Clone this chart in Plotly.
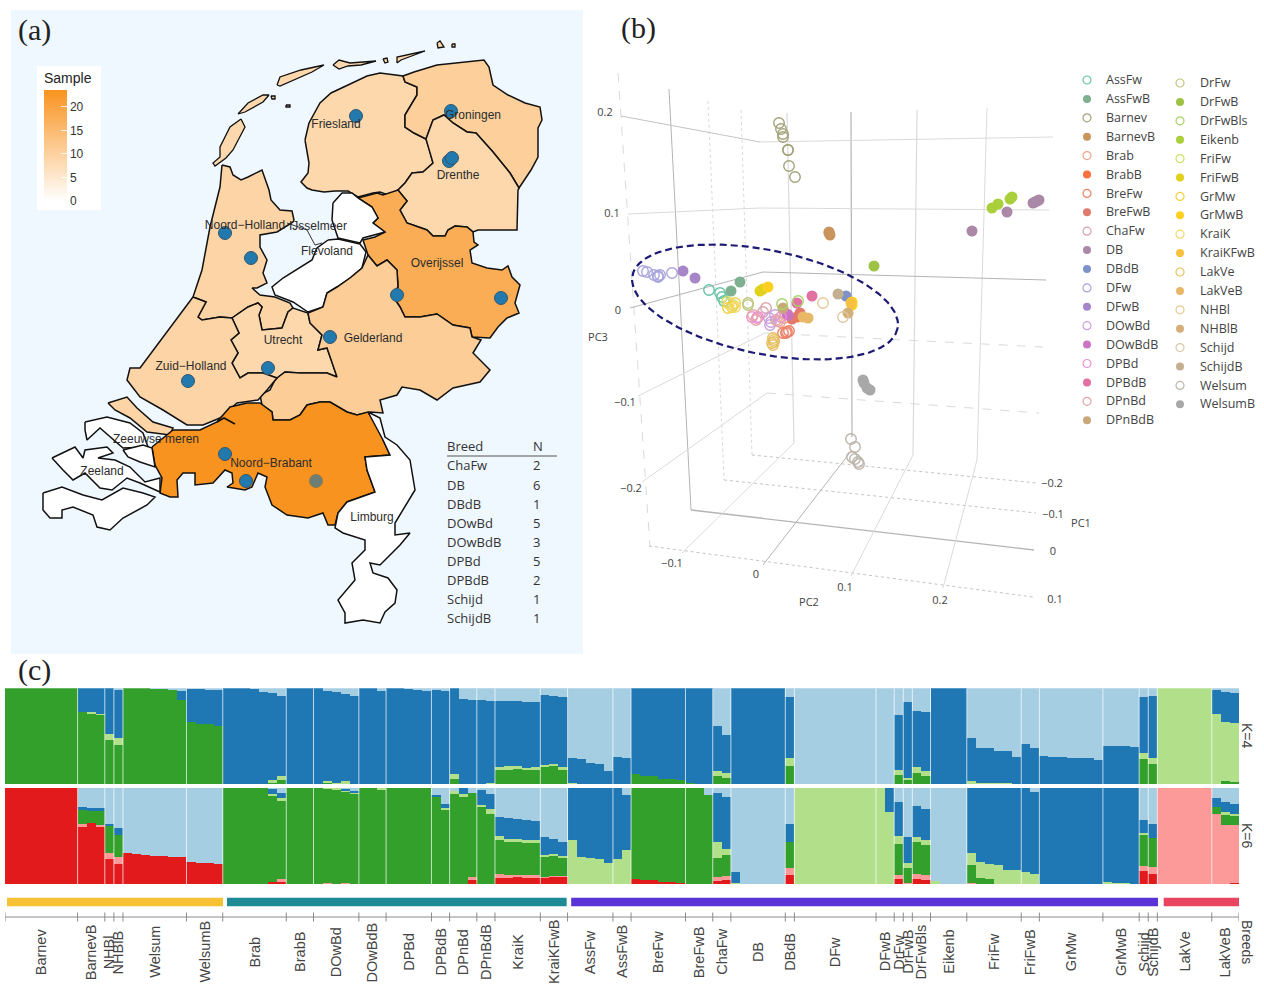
import numpy as np
import plotly.graph_objects as go

W, H = 1264, 985

# ---------------- panel (c): admixture
BREEDS = ["Barnev","BarnevB","NHBl","NHBlB","Welsum","WelsumB","Brab","BrabB","DOwBd","DOwBdB","DPBd","DPBdB",
          "DPnBd","DPnBdB","KraiK","KraiKFwB","AssFw","AssFwB","BreFw","BreFwB","ChaFw","DB","DBdB","DFw","DFwB",
          "DrFw","DrFwB","DrFwBls","Eikenb","FriFw","FriFwB","GrMw","GrMwB","Schijd","SchijdB","LakVe","LakVeB"]
BREED_N = [8,3,1,1,7,4,7,3,5,3,5,2,3,2,5,3,5,2,6,3,2,6,1,9,2,1,1,2,4,6,2,7,4,1,1,6,3]

K4_GREEN = [100]*8+[75,73,72,45.5,40.6,100,100,100,99,99,98,88,65,63,62,60]+[0,0,0,0,0,2,4.5]+[0]*3+[0,1,0,1,0]+[0]*3+[0]*5+[0,0]+[5,0,0]+[0,0]+[15,15,15.5,14.5,15,18.5,19,15.6]+[0]*7+[10,8.7,8.3,5.5,5,4,1,0,0,8,6]+[0]*6+[19]+[0]*11+[9.4,4.5,11.5,8.7]+[0]*23+[26,21]+[0]*6+[0,3,2]
K4_LGREEN = [0]*8+[0,1.5,1,6.5,7]+[0]*11+[0,0,0,0,0,2,3.5]+[0]*3+[0,2.5,1,2,0]+[0]*3+[0]*5+[0,0]+[5,0,0]+[0,1]+[2.5,3.5,3,2.5,2.5,1.5,2,2]+[1,0,0,0,0,0,0]+[0]*9+[6,5]+[0.5]+[0]*5+[8]+[0]*11+[5.6,1.5,6.2,5.3]+[0]*4+[3.5,1.5,1,1,1,0,0,0,.5,.5,.5,.5,0,0,0,0,0,0,0]+[6,6.4]+[100]*6+[73,61.6,61.5]
K4_BLUE = [0]*8+[25,25.5,27,48,50]+[0]*6+[8.5]+[34,36,36.5,37.5]+[100,100,100,99,96,91,84]+[100]*3+[100,93.5,95,91,92,100,100,97,100,100,99,98,97,97.5,96.5,90,89,88,88,85,69,67.5,67.5,68,67.5,72.5,71,72.9,26,26,21.5,21,13.5,28,27,90,91.3,91.7,94.5,95,96,99,100,100,46,40,99.5]+[100]*5+[64]+[0]*11+[57,79,58,61.3]+[100]*4+[44.5,36,36,33,33,28,41.7,38,28.5,27.5,27.5,27,27,26.7,24.6,40,39.6,39.2,38.9,59,64.6]+[0]*6+[24.5,31.4,31.5]

K6_RED = [100]*8+[60,63.7,59.5,26.6,21.5,32,31.5,30.4,29.8,29,28.7,28.7,23,22.5,21.8,21]+[0,0,0,0,0,2,3]+[0]*3+[0]*5+[0]*3+[0]*5+[0,0]+[0,0,4]+[0,0]+[7,6.6,7.6,7.3,7,6.6,7.6,7.6]+[0]*7+[5.5,4.8,4,2.4,2,1.4,0,0.5,0,3,4]+[0]*6+[10]+[0]*11+[5,0,6,4]+[0]*23+[13.5,11]+[0]*6+[0,0,1.7]
K6_PINK = [0]*8+[2.6,0,2.5,6.4,6.5]+[0]*11+[0,0,0,0,0,0,2]+[0]*3+[0,1,0,1,0]+[0]*3+[0]*5+[0,0]+[0,0,3.6]+[0,0]+[3.7,2.7,2.4,2,2.3,1,1,1]+[0]*7+[0]*9+[4.3,4.6]+[0]*6+[7.3]+[0]*11+[4.7,1.7,5,5.3]+[0]*4+[1.7]+[0]*18+[5.5,6.6]+[100]*6+[73.4,62,60.3]
K6_GREEN = [0]*8+[14.4,13.3,14.5,28,23]+[0]*11+[100,100,100,100,100,90,82]+[100]*3+[100,98,98,95,94,100,100,98]+[100]*5+[90.6,77.5,94,91,87.4,80,73.4,35,35,34.3,33.7,33.7,21.4,21.4,18.7]+[0]*7+[94.5,95.2,96,97.6,98,98.6,100,99.5,93,20,22.2]+[0]*6+[26.3]+[0]*11+[32.3,15.3,33,31.2]+[0]*4+[18.3,7,5.5,0,0,0]+[0]*13+[33,30.4]+[0]*6+[6.6,9.6,9.6]
K6_LGREEN = [0]*8+[0]*5+[0]*11+[0,0,0,0,0,1.4,3]+[0]*3+[0,1,2,1,1.5,0,0,2]+[0]*5+[0,1.5,3,3,0,2.4,4.6,4.3,2.4,2.7,3.4,2.7,1.8,1.8,2.1,46,28.4,27.3,26.6,22.5,26,36]+[0]*9+[16.7,5.5,1.7]+[0]*5+[0]+[100]*9+[100,75.4,8,5.5,5,5.9,3,0,0,0,12,16,15.5,19.7,15,14.5,13,11]+[0]*7+[2,1.7,1,0.7,1.6,0]+[0]*6+[0,3.1,1.4]
K6_BLUE = [0]*8+[3,2,2.5,2,7]+[0]*11+[0,0,0,0,0,5.9,5]+[0]*3+[0,0,0,2.7,1.5]+[0]*3+[0]*5+[2.4,4.7,0,6,0,15.2,15.4,20,22.3,21,20,20.3,18,15.6,14.9,54,71.6,72.7,73.4,77.5,74,57]+[0]*9+[51,54.7,11.3]+[0]*5+[19]+[0]*9+[0,24.6,35.5,26.5,32.7,32.1]+[0]*4+[68,77,79,80.3,85,85.5,87,85]+[100]*7+[98,98.3,99,99.3,12.8,14.6]+[0]*6+[10,10.8,10]

C_GREEN, C_LGREEN, C_BLUE, C_LBLUE, C_RED, C_PINK = "#33a02c", "#b2df8a", "#1f78b4", "#a6cee3", "#e31a1c", "#fb9a99"
GROUP_EDGES = [(-0.28, 23.53, "#f6c234"), (23.97, 61.4, "#1d8a94"), (61.9, 126.57, "#5a33d6"), (127.2, 135.6, "#ea4560")]

# ---------------- panel (a): map
PROVINCE_SAMPLES = {"Friesland":8.6,"Groningen":10.5,"Drenthe":8.6,"Overijssel":18,"Flevoland":0,"Noord-Holland":9.5,
                    "Utrecht":8.6,"Gelderland":11,"Zuid-Holland":9.5,"Noord-Brabant":23.6,"Limburg":0,"Zeeland":0}
PROV = {
"Friesland":[(305,140),(309,123),(320,103),(331,93),(348,85),(367,76),(380,73),(403,76),(405,82),(417,87),(417,95),(412,103),(405,115),(405,127),(414,133),(426,139),(429,148),(433,163),(423,172),(412,173),(405,183),(398,190),(388,195),(380,192),(373,193),(358,197),(348,191),(335,191),(324,192),(312,190),(307,188),(301,182),(308,173),(309,163),(307,153)],
"Groningen":[(403,76),(414,72),(437,65),(459,63),(484,60),(489,67),(493,85),(508,95),(525,103),(540,107),(542,120),(538,128),(538,157),(531,170),(519,188),(510,173),(493,152),(476,133),(467,132),(453,123),(444,115),(433,120),(426,139),(414,133),(405,127),(405,115),(412,103),(417,95),(417,87),(405,82)],
"Drenthe":[(426,139),(433,120),(444,115),(453,123),(467,132),(476,133),(493,152),(510,173),(519,188),(518,190),(517,230),(503,230),(478,230),(473,232),(467,227),(455,226),(448,230),(445,236),(433,236),(427,230),(407,223),(400,210),(407,201),(398,190),(405,183),(412,173),(423,172),(433,163),(429,148)],
"Overijssel":[(358,198),(377,193),(383,195),(398,190),(407,201),(400,210),(407,223),(427,230),(433,236),(445,236),(448,230),(455,226),(467,227),(473,232),(474,242),(478,245),(470,250),(472,263),(487,268),(502,270),(508,266),(512,277),(520,285),(515,303),(519,313),(507,318),(498,327),(490,338),(472,337),(470,328),(453,325),(437,314),(420,317),(405,317),(400,307),(392,295),(398,287),(397,270),(387,260),(377,266),(368,255),(363,240),(375,237),(385,232),(373,223),(378,218),(372,207)],
"Flevoland":[(333,203),(342,193),(352,193),(358,198),(372,207),(378,218),(373,223),(385,232),(363,238),(360,243),(338,238),(332,220)],
"Flevoland S":[(328,240),(338,239),(360,244),(366,252),(362,268),(350,278),(337,287),(327,293),(323,307),(308,312),(293,302),(275,295),(272,287),(283,278),(312,260),(317,248)],
"Noord-Holland":[(222,165),(230,167),(233,175),(241,180),(248,177),(262,170),(269,190),(271,200),(280,210),(292,211),(294,220),(293,222),(285,227),(277,232),(260,235),(260,247),(267,260),(263,273),(267,283),(257,288),(252,288),(260,295),(275,297),(290,303),(293,308),(288,312),(282,328),(262,330),(259,315),(262,307),(258,303),(248,307),(232,318),(220,317),(202,320),(198,317),(206,302),(193,297),(202,270),(210,227),(220,187)],
"Utrecht":[(232,318),(248,307),(258,303),(262,307),(259,315),(262,330),(282,328),(288,312),(293,308),(308,313),(310,323),(322,335),(318,350),(327,348),(332,362),(337,377),(327,373),(300,373),(285,372),(277,378),(263,373),(248,373),(240,378),(232,363),(238,353),(231,340),(239,333)],
"Gelderland":[(308,313),(323,307),(327,293),(337,287),(350,278),(362,268),(368,255),(377,266),(387,260),(397,270),(398,287),(392,295),(400,307),(405,317),(420,317),(437,314),(453,325),(470,328),(472,337),(481,340),(473,353),(490,370),(480,382),(475,383),(453,388),(437,400),(420,390),(402,387),(397,395),(380,400),(383,413),(370,412),(357,415),(347,412),(330,402),(320,402),(307,405),(300,415),(290,420),(273,420),(272,412),(262,405),(260,395),(270,390),(275,380),(277,378),(285,372),(300,373),(327,373),(337,377),(332,362),(327,348),(318,350),(322,335),(310,323)],
"Zuid-Holland":[(193,297),(206,302),(198,317),(202,320),(220,317),(232,318),(239,333),(231,340),(238,353),(232,363),(240,378),(248,373),(263,373),(277,378),(267,390),(258,400),(237,403),(220,418),(203,425),(187,425),(163,410),(140,397),(127,380),(130,368),(140,368),(163,337)],
"Zuid-Holland S":[(108,403),(127,397),(137,408),(153,422),(173,428),(170,435),(147,432),(130,418),(115,410)],
"Noord-Brabant":[(152,447),(173,430),(200,430),(217,422),(230,407),(247,403),(260,403),(272,412),(273,420),(290,420),(300,415),(307,405),(320,402),(330,402),(347,412),(357,415),(368,412),(380,427),(383,440),(390,455),(365,457),(367,470),(375,492),(347,502),(338,513),(335,525),(328,525),(323,513),(308,518),(287,515),(272,505),(265,487),(267,477),(258,473),(252,487),(245,490),(227,487),(233,483),(232,473),(225,470),(213,483),(195,485),(195,473),(183,473),(177,480),(178,497),(170,497),(160,493),(162,478),(155,465)],
"Limburg":[(368,412),(380,418),(385,437),(397,445),(410,460),(415,490),(395,523),(395,535),(410,533),(400,545),(380,565),(370,563),(373,573),(388,578),(397,590),(395,603),(385,612),(380,623),(363,620),(345,623),(345,613),(338,600),(355,580),(352,563),(365,550),(365,540),(343,533),(335,528),(338,513),(347,502),(375,492),(367,470),(365,457),(390,455),(383,440)],
"Zeeland A":[(85,422),(107,417),(130,423),(143,433),(148,447),(123,448),(100,428),(87,440),(85,430)],
"Zeeland B":[(123,450),(143,445),(152,448),(155,467),(140,462),(128,457)],
"Zeeland C":[(52,458),(75,447),(83,458),(85,450),(107,447),(113,453),(98,458),(115,460),(130,467),(145,482),(160,478),(160,492),(140,483),(127,478),(112,490),(100,488),(85,473),(73,480),(63,470)],
"Zeeland D":[(43,493),(62,487),(83,495),(102,500),(123,488),(143,493),(155,497),(147,505),(123,518),(110,530),(97,527),(93,515),(73,507),(62,510),(62,518),(50,518),(43,510)],
}
ISLANDS = [
 [(241,119),(245,127),(233,150),(226,158),(215,166),(213,163),(220,157),(220,147),(230,127)],
 [(238,114),(248,103),(263,95),(269,95),(263,102),(245,112)],
 [(277,85),(280,77),(301,70),(324,65),(312,72),(294,80),(280,86)],
 [(333,65),(339,60),(350,63),(376,61),(361,65),(348,66),(339,69)],
 [(397,63),(397,57),(425,51),(410,57),(401,60)],
 [(383,59),(387,58),(388,62),(385,63)],
 [(437,43),(440,41),(444,47),(438,48)],
 [(452,44),(455,44),(455,47),(452,47)],
 [(271,96),(275,96),(275,99),(272,99)],
 [(286,105),(290,105),(290,107),(286,107)],
]
IJSSELMEER_LINE = [(287,223),(307,230),(315,245),(322,243)]
RIVER_LINE = [(217,422),(224,418),(235,424)]
PROV_LABEL = ["Friesland","Groningen","Drenthe","Noord\u2212Holland","IJsselmeer","Flevoland","Overijssel","Gelderland","Utrecht","Zuid\u2212Holland","Zeeuwse meren","Zeeland","Noord\u2212Brabant","Limburg"]
PROV_LABEL_X = [336,473,458,245,318,327,437,373,283,191,156,102,271,372]
PROV_LABEL_Y = [125,116,176,226,227,252,264,339,341,367,440,472,464,518]
FARM_X = [356,451,449,452,225,251,397,501,330,268,188,225,246]
FARM_Y = [116,111,161,158,233,258,295,298,337,368,381,454,481]
GREY_FARM = (316,481)
TABLE_BREED = ["ChaFw","DB","DBdB","DOwBd","DOwBdB","DPBd","DPBdB","Schijd","SchijdB"]
TABLE_N = [2,6,1,5,3,5,2,1,1]
TABLE_Y = [467,487,506,525,544,563,582,601,620]

# ---------------- panel (b): PCA projection
PCA = {
"AssFw":([709,720,722,724],[290,293,297,301],"#66c2a5",True),
"AssFwB":([740,731],[282,291],"#7fb08f",False),
"Barnev":([779,781,783,783,788,788,789,795],[123,129,134,137,150,150,166,177],"#a3a37c",True),
"BarnevB":([829,829,830],[232,233,235],"#c9955c",False),
"Brab":([780,776,784],[322,320,318],"#f0a58a",True),
"BrabB":([797],[317],"#f8713e",False),
"BreFw":([783,786,787,789],[333,333,332,331],"#ee7f66",True),
"BreFwB":([800,792],[313,319],"#e07a6d",False),
"ChaFw":([766,763],[308,312],"#d8a3ac",True),
"DB":([972,1007,1033,1035,1037,1039],[231,212,203,202,201,200],"#a988a8",False),
"DBdB":([846],[296],"#7e92c8",False),
"DFw":([643,647,654,658,658,660,672],[271,272,275,277,276,275,273],"#a9a4dc",True),
"DFwB":([683,695],[271,278],"#a785c9",False),
"DOwBd":([769,770,775,771],[318,325,315,322],"#c9a0dc",True),
"DOwBdB":([787,788],[314,315],"#cc74c4",False),
"DPBd":([752,757,758,781],[317,318,317,317],"#ec90cf",True),
"DPBdB":([812,797],[296,303],"#e271a3",False),
"DPnBd":([753,756,778],[315,320,321],"#e3a5a8",True),
"DPnBdB":([783],[308],"#c8a878",False),
"DrFw":([748,748],[303,305],"#c0c880",True),
"DrFwB":([874],[266],"#9ec244",False),
"DrFwBls":([782,798],[304,301],"#a8d468",True),
"Eikenb":([992,998,1010,1012],[208,204,199,197],"#a9cf3a",False),
"FriFw":([727,733],[302,305],"#cde068",True),
"FriFwB":([760,763],[291,289],"#e0d21c",False),
"GrMw":([728,732,735],[308,307,303],"#f0d040",True),
"GrMwB":([768,852,852],[287,302,305],"#ffd020",False),
"KraiK":([729,735],[304,307],"#f5d868",True),
"KraiKFwB":([851],[303],"#f8c040",False),
"LakVe":([773,772,774,773,774],[338,343,342,345,340],"#e8bf60",True),
"LakVeB":([808,803],[318,317],"#e8b868",False),
"NHBl":([823],[303],"#e8c898",True),
"NHBlB":([848],[313],"#d4b078",False),
"Schijd":([843],[317],"#dcc8a8",True),
"SchijdB":([838],[294],"#c4b090",False),
"Welsum":([851,855,852,855,858,859],[439,447,457,459,462,464],"#bdb5ac",True),
"WelsumB":([863,864,867,870],[380,383,388,390],"#a8a8a8",False),
}
LEG_COL1 = ["AssFw","AssFwB","Barnev","BarnevB","Brab","BrabB","BreFw","BreFwB","ChaFw","DB","DBdB","DFw","DFwB","DOwBd","DOwBdB","DPBd","DPBdB","DPnBd","DPnBdB"]
LEG_COL2 = ["DrFw","DrFwB","DrFwBls","Eikenb","FriFw","FriFwB","GrMw","GrMwB","KraiK","KraiKFwB","LakVe","LakVeB","NHBl","NHBlB","Schijd","SchijdB","Welsum","WelsumB"]
# grid: (x0,y0,x1,y1,colour,width,dash)
L, D, S = "#dadada", "#c4c4c4", "#b4b4b4"
GRID = [
 (618,73,650,547,L,1,"dash"),(669,89,691,510,S,1,"solid"),(708,101,724,480,L,1,"dot"),(741,110,752,455,L,1,"dot"),
 (787,113,794,443,L,1.2,"solid"),(851,112,852,437,S,1.2,"solid"),(917,110,913,455,L,1.2,"solid"),(987,108,977,460,L,1,"solid"),
 (621,116,760,142,D,1,"solid"),(760,142,1053,137,L,1,"solid"),(628,214,760,208,L,1,"solid"),(760,208,1049,210,L,1,"solid"),
 (630,308,763,272,S,1,"solid"),(763,272,1046,280,S,1,"solid"),(638,396,765,333,L,1,"solid"),(765,333,1043,347,L,1,"dash"),
 (642,482,767,393,L,1,"solid"),(767,393,1039,413,L,1,"dash"),
 (752,455,1037,483,D,1,"dot"),(724,480,1036,513,D,1,"dot"),(691,510,1034,550,S,1.3,"solid"),(649,546,1033,597,D,1,"dot"),
 (794,443,682,553,L,1,"solid"),(852,450,763,565,S,1,"solid"),(913,455,851,576,L,1,"solid"),(977,460,943,588,L,1,"solid"),
]
PCA_TICK_TEXT = ["0.2","0.1","0","\u22120.1","\u22120.2","PC3","\u22120.1","0","0.1","0.2","PC2","\u22120.2","\u22120.1","0","0.1","PC1"]
PCA_TICK_X = [605,612,618,625,631,598,672,756,845,940,809,1052,1053,1053,1055,1081]
PCA_TICK_Y = [113,214,311,403,489,338,564,575,588,601,603,484,515,552,600,524]

# ---------------- helpers
px = lambda v: v / W
py = lambda v: 1 - v / H
for name, arr in dict(K4_GREEN=K4_GREEN,K4_LGREEN=K4_LGREEN,K4_BLUE=K4_BLUE,K6_RED=K6_RED,K6_PINK=K6_PINK,K6_GREEN=K6_GREEN,K6_LGREEN=K6_LGREEN,K6_BLUE=K6_BLUE).items():
    assert len(arr) == sum(BREED_N), (name, len(arr), sum(BREED_N))

fig = go.Figure()
xs = list(range(sum(BREED_N)))
bound = np.cumsum([0] + BREED_N) - 0.5
rem = lambda *a: [max(0, 100 - sum(v)) for v in zip(*a)]

for y, c in [(K4_GREEN,C_GREEN),(K4_LGREEN,C_LGREEN),(K4_BLUE,C_BLUE),(rem(K4_GREEN,K4_LGREEN,K4_BLUE),C_LBLUE)]:
    fig.add_bar(x=xs, y=y, marker=dict(color=c, line_width=0), xaxis="x", yaxis="y", showlegend=False)
for y, c in [(K6_RED,C_RED),(K6_PINK,C_PINK),(K6_GREEN,C_GREEN),(K6_LGREEN,C_LGREEN),(K6_BLUE,C_BLUE),(rem(K6_RED,K6_PINK,K6_GREEN,K6_LGREEN,K6_BLUE),C_LBLUE)]:
    fig.add_bar(x=xs, y=y, marker=dict(color=c, line_width=0), xaxis="x2", yaxis="y2", showlegend=False)

sx, sy = [], []
for b in bound[1:-1]:
    sx += [b, b, None]; sy += [0, 100, None]
for xa, ya in (("x","y"),("x2","y2")):
    fig.add_scatter(x=sx, y=sy, mode="lines", line=dict(color="rgba(255,255,255,0.7)", width=1), xaxis=xa, yaxis=ya, showlegend=False, hoverinfo="skip")

# group bars & bracket axis
for a, b, c in GROUP_EDGES:
    fig.add_scatter(x=[a,b], y=[902,902], mode="lines", line=dict(color=c, width=8.5), xaxis="x3", yaxis="y3", showlegend=False, hoverinfo="skip", cliponaxis=False)
tx, ty = [bound[0], bound[-1], None], [917, 917, None]
for b in bound:
    tx += [b, b, None]; ty += [912.5, 921.5, None]
fig.add_scatter(x=tx, y=ty, mode="lines", line=dict(color="#8c8c8c", width=1), xaxis="x3", yaxis="y3", showlegend=False, hoverinfo="skip", cliponaxis=False)

# map
fig.add_scatter(x=[336], y=[125], mode="markers", xaxis="x4", yaxis="y4", showlegend=False, hoverinfo="skip",
    marker=dict(size=1, color=[8.6], cmin=0, cmax=23.6, colorscale=[[0,"#ffffff"],[1,"#f9931f"]], showscale=True,
        colorbar=dict(xref="paper", yref="paper", x=px(44), xanchor="left", y=py(69), yanchor="top", len=132, lenmode="pixels",
            thickness=23, thicknessmode="pixels", xpad=0, ypad=0, outlinewidth=0, ticks="inside", tickcolor="rgba(255,255,255,0.8)", ticklen=6,
            tickvals=[0,5,10,15,20], tickfont=dict(family="Liberation Sans", size=12, color="#333"),
            title=dict(text="Sample", side="top", font=dict(family="Liberation Sans", size=14, color="#222")), bgcolor="rgba(0,0,0,0)")))

def fillcol(v):
    t = v / 23.6
    a, b = np.array([255,255,255]), np.array([249,147,31])
    r, g, bl = (a + (b - a) * t).round().astype(int)
    return f"rgb({r},{g},{bl})"

for name, pts in PROV.items():
    base = name.split(" ")[0] if name.split(" ")[-1] in "ABCDS" and len(name.split(" ")) > 1 else name
    xx, yy = zip(*(pts + pts[:1]))
    fig.add_scatter(x=xx, y=yy, mode="lines", fill="toself", fillcolor=fillcol(PROVINCE_SAMPLES[base]),
        line=dict(color="#111", width=1.5), xaxis="x4", yaxis="y4", showlegend=False, hoverinfo="skip")
for pts in ISLANDS:
    xx, yy = zip(*(pts + pts[:1]))
    fig.add_scatter(x=xx, y=yy, mode="lines", fill="toself", fillcolor=fillcol(8.6), line=dict(color="#111", width=1.3), xaxis="x4", yaxis="y4", showlegend=False, hoverinfo="skip")
xx, yy = zip(*IJSSELMEER_LINE)
fig.add_scatter(x=xx, y=yy, mode="lines", line=dict(color="#333", width=1), xaxis="x4", yaxis="y4", showlegend=False, hoverinfo="skip")
xx, yy = zip(*RIVER_LINE)
fig.add_scatter(x=xx, y=yy, mode="lines", line=dict(color="#111", width=1.6), xaxis="x4", yaxis="y4", showlegend=False, hoverinfo="skip")
fig.add_scatter(x=FARM_X, y=FARM_Y, mode="markers", marker=dict(size=13, color="#2279ae", line=dict(color="#33566b", width=1)), xaxis="x4", yaxis="y4", showlegend=False, hoverinfo="skip")
fig.add_scatter(x=[GREY_FARM[0]], y=[GREY_FARM[1]], mode="markers", marker=dict(size=13, color="#6d7e76", line=dict(color="#8a7a50", width=1)), xaxis="x4", yaxis="y4", showlegend=False, hoverinfo="skip")
fig.add_scatter(x=PROV_LABEL_X, y=PROV_LABEL_Y, mode="text", text=PROV_LABEL, textposition="middle center",
    textfont=dict(family="Liberation Sans", size=12, color="#2b2b2b"), xaxis="x4", yaxis="y4", showlegend=False, hoverinfo="skip")
# table
tf = dict(family="Open Sans", size=13, color="#333")
fig.add_scatter(x=[447]*(len(TABLE_Y)+1), y=[448]+TABLE_Y, mode="text", text=["Breed"]+TABLE_BREED, textposition="middle right", textfont=tf, xaxis="x4", yaxis="y4", showlegend=False, hoverinfo="skip")
fig.add_scatter(x=[533]*(len(TABLE_Y)+1), y=[448]+TABLE_Y, mode="text", text=["N"]+[str(n) for n in TABLE_N], textposition="middle right", textfont=tf, xaxis="x4", yaxis="y4", showlegend=False, hoverinfo="skip")

# PCA grid
for x0,y0,x1,y1,c,w,dash in GRID:
    fig.add_scatter(x=[x0,x1], y=[y0,y1], mode="lines", line=dict(color=c, width=w, dash=dash), xaxis="x5", yaxis="y5", showlegend=False, hoverinfo="skip")
for name,(x,y,c,op) in PCA.items():
    mk = dict(size=10.5, color="rgba(0,0,0,0)", line=dict(color=c, width=1.4)) if op else dict(size=11, color=c, line=dict(color=c, width=0))
    fig.add_scatter(x=x, y=y, mode="markers", marker=mk, xaxis="x5", yaxis="y5", showlegend=False, name=name)
t = np.linspace(0, 2*np.pi, 160)
ex = 765 + 135.2*np.cos(t)*np.cos(np.radians(11.3)) - 52*np.sin(t)*np.sin(np.radians(11.3))
ey = 302 + 135.2*np.cos(t)*np.sin(np.radians(11.3)) + 52*np.sin(t)*np.cos(np.radians(11.3))
fig.add_scatter(x=ex, y=ey, mode="lines", line=dict(color="#1c1a72", width=2.2, dash="7px,4px"), xaxis="x5", yaxis="y5", showlegend=False, hoverinfo="skip")
fig.add_scatter(x=PCA_TICK_X, y=PCA_TICK_Y, mode="text", text=PCA_TICK_TEXT, textposition="middle center", cliponaxis=False,
    textfont=dict(family="Open Sans", size=11, color="#444"), xaxis="x5", yaxis="y5", showlegend=False, hoverinfo="skip")
for col, mx, tx0, y0 in ((LEG_COL1,1087,1106,81),(LEG_COL2,1180,1200,84)):
    for i, name in enumerate(col):
        _,_,c,op = PCA[name]
        yy = y0 + i*18.9
        mk = dict(size=8, color="rgba(0,0,0,0)", line=dict(color=c, width=1.2)) if op else dict(size=8, color=c)
        fig.add_scatter(x=[mx], y=[yy-1], mode="markers", marker=mk, xaxis="x5", yaxis="y5", showlegend=False, hoverinfo="skip")
        fig.add_scatter(x=[tx0], y=[yy], mode="text", text=[name], textposition="middle right",
            textfont=dict(family="Open Sans", size=12.5, color="#444"), xaxis="x5", yaxis="y5", showlegend=False, hoverinfo="skip")

# annotations
ann = []
centers = (bound[:-1] + bound[1:]) / 2
for name, c in zip(BREEDS, centers):
    ann.append(dict(x=c, xref="x3", y=py(952), yref="paper", text=name, textangle=-90, showarrow=False,
        font=dict(family="Liberation Sans", size=14.5, color="#444"), xanchor="center", yanchor="middle"))
for text, xp, yp in (("K=4",1247,736),("K=6",1247,836),("Breeds",1247,942)):
    ann.append(dict(x=px(xp), xref="paper", y=py(yp), yref="paper", text=text, textangle=90, showarrow=False,
        font=dict(family="Liberation Sans", size=14, color="#444"), xanchor="center", yanchor="middle"))
for text, xp, yp in (("(a)",34,30),("(b)",638,28),("(c)",34,670)):
    ann.append(dict(x=px(xp), xref="paper", y=py(yp), yref="paper", text=text, showarrow=False,
        font=dict(family="Liberation Serif", size=30, color="#222"), xanchor="center", yanchor="middle"))

shapes = [
    dict(type="rect", xref="x4", yref="y4", x0=11, x1=583, y0=10, y1=654, fillcolor="#eff7ff", line_width=0, layer="below"),
    dict(type="rect", xref="x4", yref="y4", x0=37, x1=101, y0=66, y1=210, fillcolor="#ffffff", line_width=0, layer="below"),
    dict(type="line", xref="x4", yref="y4", x0=447, x1=557, y0=456, y1=456, line=dict(color="#8a8a8a", width=1.6)),
]

nogrid = dict(showgrid=False, zeroline=False, showticklabels=False, ticks="", showline=False, fixedrange=True)
xd = [px(5), px(1239)]
xr = [-0.5, sum(BREED_N)-0.5]
fig.update_layout(
    width=W, height=H, margin=dict(l=0, r=0, t=0, b=0), paper_bgcolor="white", plot_bgcolor="rgba(0,0,0,0)",
    barmode="stack", bargap=0, showlegend=False, annotations=ann, shapes=shapes, hovermode=False,
    xaxis=dict(domain=xd, range=xr, anchor="y", **nogrid), yaxis=dict(domain=[py(784.3), py(688.3)], range=[0,100], anchor="x", **nogrid),
    xaxis2=dict(domain=xd, range=xr, anchor="y2", **nogrid), yaxis2=dict(domain=[py(884), py(787.7)], range=[0,100], anchor="x2", **nogrid),
    xaxis3=dict(domain=xd, range=xr, anchor="y3", **nogrid), yaxis3=dict(domain=[py(930), py(890)], range=[930,890], anchor="x3", **nogrid),
    xaxis4=dict(domain=[0, px(590)], range=[0,590], anchor="y4", **nogrid), yaxis4=dict(domain=[py(660), 1], range=[660,0], anchor="x4", **nogrid),
    xaxis5=dict(domain=[px(590), 1], range=[590,W], anchor="y5", **nogrid), yaxis5=dict(domain=[py(660), 1], range=[660,0], anchor="x5", **nogrid),
)
fig.write_html("out.html", post_script="document.body.style.margin='0';document.body.style.overflow='hidden';", config={"displayModeBar": False})
